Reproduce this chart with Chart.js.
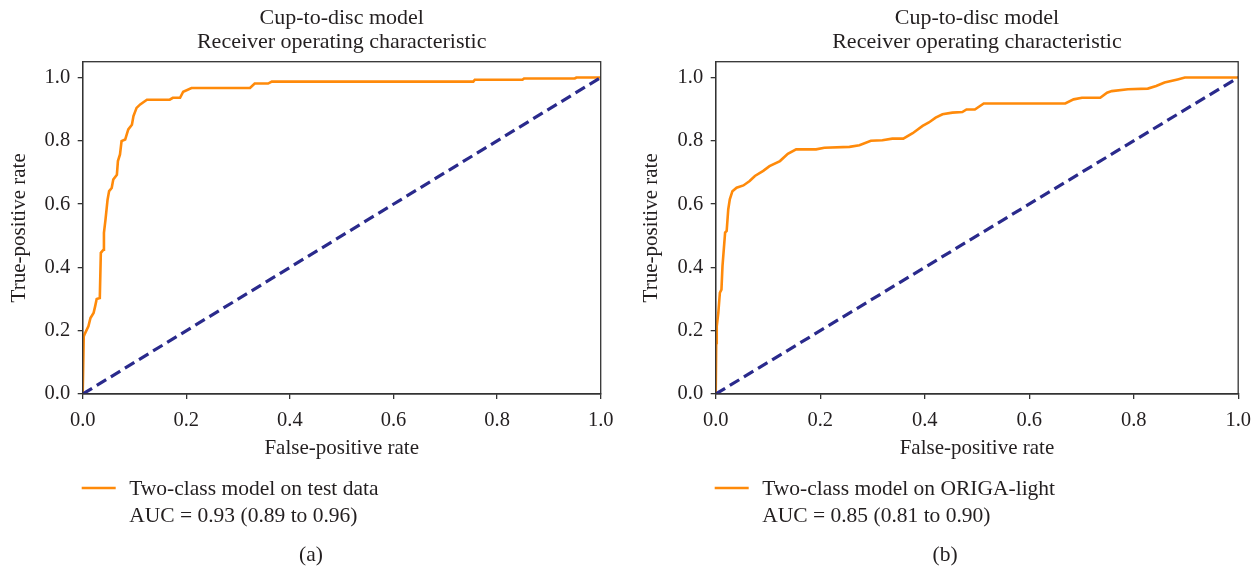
<!DOCTYPE html>
<html>
<head>
<meta charset="utf-8">
<script src="https://cdn.jsdelivr.net/npm/chart.js@4.4.1/dist/chart.umd.min.js"></script>
<style>
  html, body { margin: 0; padding: 0; background: #ffffff; }
  #wrap { position: relative; width: 1260px; height: 567px; overflow: hidden; }
  .pane { position: absolute; top: 0; width: 630px; height: 567px; }
</style>
</head>
<body>
<div id="wrap">
  <div class="pane" style="left:0"><canvas id="cA" width="630" height="567"></canvas></div>
  <div class="pane" style="left:630px"><canvas id="cB" width="630" height="567"></canvas></div>
</div>
<script>
// ---------- data ----------
const titleLines = ['Cup-to-disc model', 'Receiver operating characteristic'];
const xAxisTitle = 'False-positive rate';
const yAxisTitle = 'True-positive rate';
const xTicks = [0.0, 0.2, 0.4, 0.6, 0.8, 1.0];
const yTicks = [0.0, 0.2, 0.4, 0.6, 0.8, 1.0];
const chanceX = [0, 1];
const chanceY = [0, 1];

const legendA = ['Two-class model on test data', 'AUC = 0.93 (0.89 to 0.96)'];
const captionA = '(a)';
const fprA = [0, 0.002, 0.004, 0.011, 0.015, 0.021, 0.024, 0.027, 0.033, 0.035, 0.040, 0.041, 0.044, 0.048, 0.051, 0.056, 0.059, 0.066, 0.068, 0.072, 0.075, 0.082, 0.088, 0.095, 0.098, 0.104, 0.111, 0.124, 0.168, 0.174, 0.188, 0.194, 0.210, 0.323, 0.332, 0.358, 0.365, 0.754, 0.757, 0.849, 0.852, 0.950, 0.953, 1.0];
const tprA = [0, 0.182, 0.190, 0.214, 0.240, 0.256, 0.277, 0.300, 0.303, 0.446, 0.456, 0.509, 0.551, 0.614, 0.641, 0.651, 0.678, 0.693, 0.736, 0.757, 0.799, 0.804, 0.836, 0.851, 0.878, 0.904, 0.915, 0.930, 0.930, 0.936, 0.936, 0.955, 0.967, 0.967, 0.981, 0.981, 0.987, 0.987, 0.993, 0.993, 0.997, 0.997, 1.0, 1.0];

const legendB = ['Two-class model on ORIGA-light', 'AUC = 0.85 (0.81 to 0.90)'];
const captionB = '(b)';
const fprB = [0, 0.001, 0.002, 0.005, 0.008, 0.011, 0.013, 0.018, 0.021, 0.024, 0.027, 0.032, 0.040, 0.053, 0.065, 0.075, 0.091, 0.103, 0.123, 0.138, 0.154, 0.192, 0.208, 0.256, 0.275, 0.297, 0.319, 0.338, 0.359, 0.377, 0.396, 0.408, 0.421, 0.434, 0.453, 0.472, 0.480, 0.496, 0.513, 0.669, 0.685, 0.701, 0.736, 0.749, 0.758, 0.789, 0.827, 0.843, 0.859, 0.884, 0.898, 1.0];
const tprB = [0, 0.161, 0.214, 0.256, 0.320, 0.330, 0.404, 0.510, 0.515, 0.583, 0.615, 0.641, 0.652, 0.659, 0.673, 0.689, 0.705, 0.720, 0.736, 0.759, 0.773, 0.773, 0.778, 0.781, 0.786, 0.800, 0.802, 0.807, 0.807, 0.824, 0.847, 0.858, 0.873, 0.884, 0.889, 0.891, 0.899, 0.899, 0.918, 0.918, 0.931, 0.936, 0.936, 0.952, 0.957, 0.963, 0.965, 0.973, 0.984, 0.994, 1.0, 1.0];

// ---------- styles ----------
const FONT = '"Liberation Serif", "DejaVu Serif", serif';
const TEXT = '#231f20';
const FRAME = '#333333';
const ORANGE = '#ff8a0a';
const NAVY = '#2a2a8c';

Chart.defaults.font.family = FONT;
Chart.defaults.color = TEXT;

const zip = (xs, ys) => xs.map((x, i) => ({ x: x, y: ys[i] }));

const decor = {
  id: 'decor',
  afterDraw(chart, args, o) {
    const ctx = chart.ctx, a = chart.chartArea;
    ctx.save();
    // frame
    ctx.strokeStyle = FRAME;
    ctx.lineWidth = 1.3;
    ctx.strokeRect(a.left, a.top, a.right - a.left, a.bottom - a.top);
    // title
    ctx.fillStyle = TEXT;
    ctx.font = '22px ' + FONT;
    ctx.textAlign = 'center';
    ctx.textBaseline = 'alphabetic';
    const cx = (a.left + a.right) / 2;
    titleLines.forEach((t, i) => ctx.fillText(t, cx, 23.5 + i * 24));
    // legend
    ctx.strokeStyle = ORANGE;
    ctx.lineWidth = 2.5;
    ctx.beginPath();
    ctx.moveTo(a.left - 1, 488);
    ctx.lineTo(a.left + 33, 488);
    ctx.stroke();
    ctx.font = '21.5px ' + FONT;
    ctx.textAlign = 'left';
    ctx.fillText(o.legend[0], a.left + 46.5, 495);
    ctx.fillText(o.legend[1], a.left + 46.5, 522);
    // caption
    ctx.textAlign = 'center';
    ctx.fillText(o.caption, o.captionX, 561);
    ctx.restore();
  }
};

function makeChart(id, fpr, tpr, legend, caption, captionX, yWidth, padRight, yTitlePad) {
  return new Chart(document.getElementById(id), {
    type: 'line',
    data: {
      datasets: [
        {
          data: zip(fpr, tpr),
          borderColor: ORANGE,
          borderWidth: 2.6,
          pointRadius: 0,
          tension: 0,
          fill: false,
          order: 2
        },
        {
          data: zip(chanceX, chanceY),
          borderColor: NAVY,
          borderWidth: 3.2,
          borderDash: [11, 5.5],
          pointRadius: 0,
          tension: 0,
          fill: false,
          order: 1
        }
      ]
    },
    options: {
      responsive: false,
      animation: false,
      devicePixelRatio: 1,
      layout: { padding: { left: 0, top: 61.7, right: padRight, bottom: 106 } },
      plugins: {
        legend: { display: false },
        title: { display: false },
        tooltip: { enabled: false },
        decor: { legend: legend, caption: caption, captionX: captionX }
      },
      scales: {
        x: {
          type: 'linear',
          min: 0, max: 1,
          afterBuildTicks: s => { s.ticks = xTicks.map(v => ({ value: v })); },
          afterFit: s => { s.height = 67; },
          ticks: {
            callback: v => v.toFixed(1),
            font: { size: 20.5 },
            color: TEXT,
            padding: 9,
            maxRotation: 0
          },
          grid: { display: true, drawOnChartArea: false, drawTicks: true, tickLength: 5, color: FRAME, lineWidth: 1.3 },
          border: { display: true, color: FRAME, width: 1.3 },
          title: { display: true, text: xAxisTitle, font: { size: 21 }, color: TEXT, padding: { top: 0, bottom: 0 } }
        },
        y: {
          type: 'linear',
          min: 0, max: 1.05,
          afterBuildTicks: s => { s.ticks = yTicks.map(v => ({ value: v })); },
          afterFit: s => { s.width = yWidth; },
          ticks: {
            callback: v => v.toFixed(1),
            font: { size: 20.5 },
            color: TEXT,
            padding: 7.5
          },
          grid: { display: true, drawOnChartArea: false, drawTicks: true, tickLength: 5, color: FRAME, lineWidth: 1.3 },
          border: { display: true, color: FRAME, width: 1.3 },
          title: { display: true, text: yAxisTitle, font: { size: 21 }, color: TEXT, padding: { top: yTitlePad, bottom: 0 } }
        }
      }
    },
    plugins: [decor]
  });
}

makeChart('cA', fprA, tprA, legendA, captionA, 311, 82.7, 29.3, 7);
makeChart('cB', fprB, tprB, legendB, captionB, 315, 85.7, 19.3, 9);
</script>
</body>
</html>
